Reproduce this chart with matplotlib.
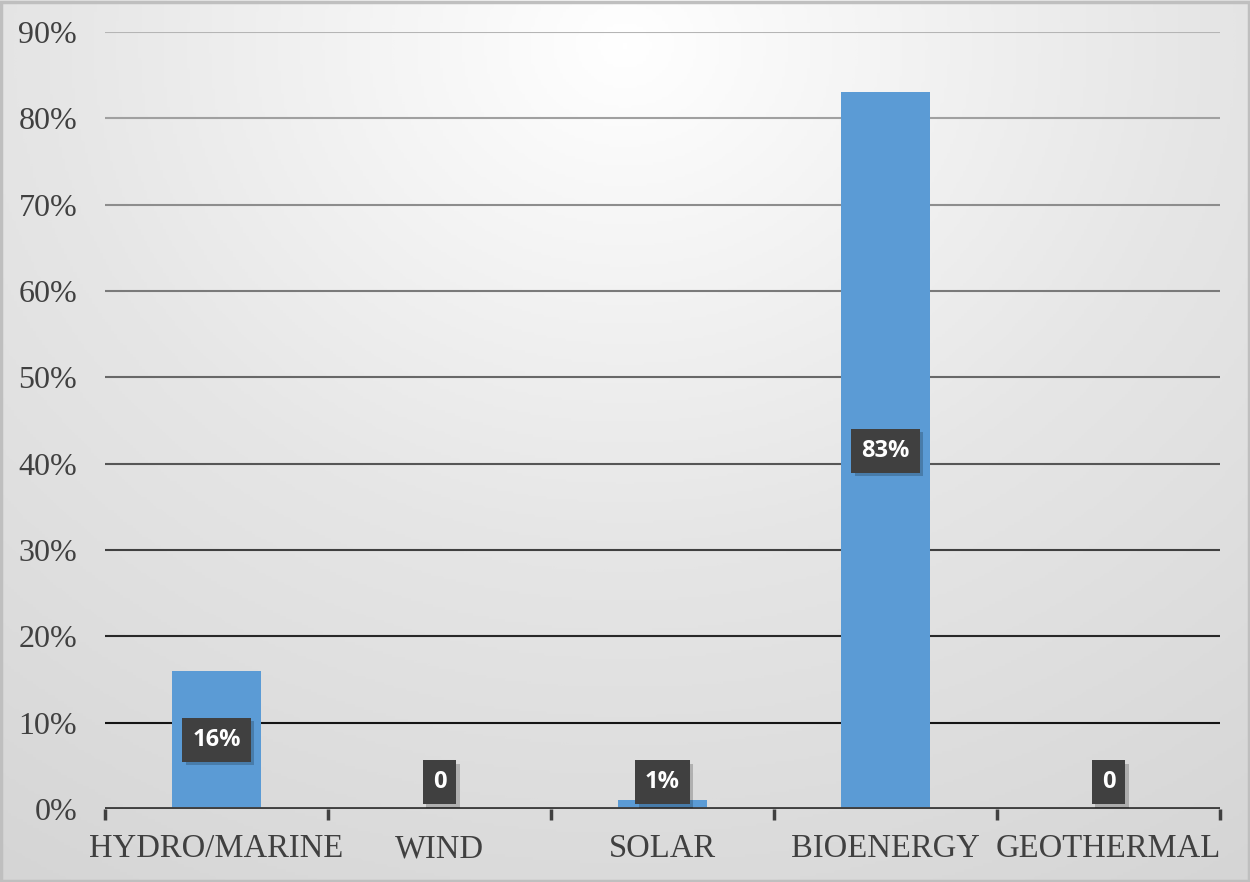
import numpy as np
import matplotlib.pyplot as plt
import matplotlib.colors as mcolors
import matplotlib.patheffects as pe

categories = ["HYDRO/MARINE", "WIND", "SOLAR", "BIOENERGY", "GEOTHERMAL"]
shares = [0.16, 0.0, 0.01, 0.83, 0.0]
labels = ["16%", "0", "1%", "83%", "0"]
yticks = [0.0, 0.1, 0.2, 0.3, 0.4, 0.5, 0.6, 0.7, 0.8, 0.9]
ytick_labels = ["0%", "10%", "20%", "30%", "40%", "50%", "60%", "70%", "80%", "90%"]

fig = plt.figure(figsize=(12.5, 8.82), dpi=100)

# soft radial background, white near top centre, grey in lower corners
bg = fig.add_axes([0, 0, 1, 1], zorder=0)
yy, xx = np.mgrid[0:1:300j, 0:1:400j]
r = np.sqrt(((xx - 0.5) / 0.9) ** 2 + ((yy - 0.05) / 1.1) ** 2)
r = np.clip(r / r.max(), 0, 1)
cmap = mcolors.LinearSegmentedColormap.from_list("bg", ["#ffffff", "#e6e6e6", "#d5d5d5"])
bg.imshow(r, cmap=cmap, aspect="auto", extent=[0, 1, 1, 0], vmin=0, vmax=1)
bg.set_xlim(0, 1)
bg.set_ylim(1, 0)
bg.axis("off")
fig.patches.append(plt.Rectangle((0.001, 0.001), 0.998, 0.997, transform=fig.transFigure,
                                 fill=False, edgecolor="#bfbfbf", linewidth=2.5))

ax = fig.add_axes([0.084, 0.0828, 0.892, 0.881], zorder=1)
ax.patch.set_alpha(0)
x = np.arange(len(categories))

# gridlines get darker towards the bottom
grid_cols = plt.cm.Greys(np.linspace(1.0, 0.4, len(yticks)))
for yv, c in zip(yticks[1:], grid_cols[1:]):
    ax.axhline(yv, color=c, linewidth=1.5, zorder=1)

ax.bar(x, shares, width=0.4, color="#5b9bd5", zorder=2)

for xi, v, lab in zip(x, shares, labels):
    ypos = v / 2 if v > 0.05 else 0.031
    t = ax.text(xi, ypos, lab, ha="center", va="center", color="white", fontsize=17,
                fontweight="bold", family="Open Sans", zorder=4,
                bbox=dict(boxstyle="square,pad=0.42", facecolor="#404040", edgecolor="none"))
    t.get_bbox_patch().set_path_effects([
        pe.SimplePatchShadow(offset=(2.5, -2.5), shadow_rgbFace="black", alpha=0.2),
        pe.Normal()])

ax.axhline(0, color="#404040", linewidth=2.8, zorder=3)
ax.set_xlim(-0.5, len(categories) - 0.5)
ax.set_ylim(0, 0.9)
ax.set_yticks(yticks)
ax.set_yticklabels(ytick_labels, family="Liberation Serif", fontsize=23, color="#404040")
ax.tick_params(axis="y", length=0, pad=20)

ax.set_xticks(np.arange(-0.5, len(categories)), minor=True)
ax.set_xticks(x)
ax.set_xticklabels(categories, family="Liberation Serif", fontsize=23.5, color="#404040")
ax.tick_params(axis="x", which="major", length=0, pad=18)
ax.tick_params(axis="x", which="minor", length=8, width=2.5, color="#404040")

for s in ax.spines.values():
    s.set_visible(False)

fig.savefig("out.png", dpi=100)
